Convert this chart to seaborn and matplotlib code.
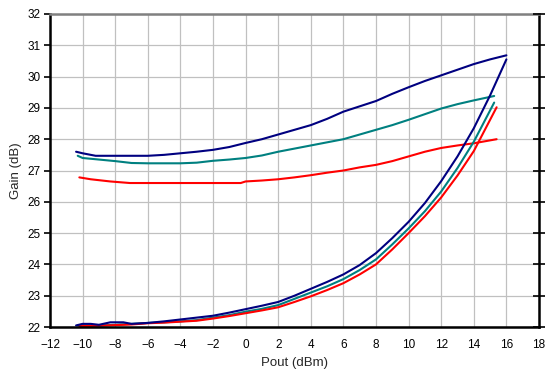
import pandas as pd
import matplotlib
matplotlib.use('Agg')
import matplotlib.pyplot as plt
import seaborn as sns

# gain vs output power, three conditions (navy / teal / red), two curves each
pout_navy_hi = [-10.4, -10, -9.2, -8, -7, -6, -5, -4, -3, -2, -1, 0, 1, 2, 3, 4, 5, 6, 7, 8, 9, 10, 11, 12, 13, 14, 15, 16]
gain_navy_hi = [27.6, 27.55, 27.47, 27.47, 27.47, 27.47, 27.5, 27.55, 27.6, 27.66, 27.75, 27.88, 28.0, 28.15, 28.3, 28.45,
                28.65, 28.88, 29.05, 29.22, 29.45, 29.66, 29.86, 30.04, 30.22, 30.4, 30.55, 30.68]

pout_teal_hi = [-10.3, -10, -9, -8, -7, -6, -5, -4, -3, -2, -1, 0, 1, 2, 3, 4, 5, 6, 7, 8, 9, 10, 11, 12, 13, 14, 15.25]
gain_teal_hi = [27.47, 27.4, 27.35, 27.3, 27.24, 27.23, 27.23, 27.23, 27.25, 27.31, 27.35, 27.4, 27.48, 27.6, 27.7, 27.8,
                27.9, 28.0, 28.15, 28.3, 28.45, 28.62, 28.8, 28.98, 29.12, 29.24, 29.38]

pout_red_hi = [-10.2, -9.5, -8.3, -7.1, -6, -5, -4, -3, -2, -1, -0.3, 0, 1, 2, 3, 4, 5, 6, 7, 8, 9, 10, 11, 12, 13, 14, 15.4]
gain_red_hi = [26.78, 26.72, 26.65, 26.6, 26.6, 26.6, 26.6, 26.6, 26.6, 26.6, 26.6, 26.65, 26.68, 26.72, 26.78, 26.85,
               26.93, 27.0, 27.1, 27.18, 27.3, 27.45, 27.6, 27.72, 27.8, 27.87, 28.0]

pout_navy_lo = [-10.4, -10, -9.5, -9, -8.3, -7.5, -7, -6, -5, -4, -3, -2, -1, 0, 1, 2, 3, 4, 5, 6, 7, 8, 9, 10, 11, 12, 13, 14, 15, 16]
gain_navy_lo = [22.05, 22.1, 22.1, 22.07, 22.15, 22.15, 22.1, 22.13, 22.18, 22.24, 22.3, 22.36, 22.46, 22.57, 22.68, 22.8,
                23.0, 23.22, 23.44, 23.68, 23.98, 24.36, 24.84, 25.36, 25.96, 26.66, 27.45, 28.35, 29.4, 30.55]

pout_teal_lo = [-10.3, -9, -8, -7, -6, -5, -4, -3, -2, -1, 0, 1, 2, 3, 4, 5, 6, 7, 8, 9, 10, 11, 12, 13, 14, 15.25]
gain_teal_lo = [22.05, 22.05, 22.07, 22.1, 22.13, 22.15, 22.18, 22.22, 22.3, 22.38, 22.49, 22.58, 22.7, 22.9, 23.1, 23.3,
                23.53, 23.82, 24.16, 24.64, 25.15, 25.7, 26.33, 27.08, 27.92, 29.17]

pout_red_lo = [-10.2, -9, -8, -7, -6, -5, -4, -3, -2, -1, 0, 1, 2, 3, 4, 5, 6, 7, 8, 9, 10, 11, 12, 13, 14, 15.4]
gain_red_lo = [22.03, 22.04, 22.06, 22.08, 22.12, 22.14, 22.17, 22.2, 22.27, 22.35, 22.44, 22.53, 22.63, 22.8, 22.98, 23.18,
               23.4, 23.68, 24.0, 24.48, 25.0, 25.54, 26.14, 26.84, 27.62, 29.02]

series = [
    (pout_navy_hi, gain_navy_hi, '#000080'),
    (pout_teal_hi, gain_teal_hi, '#008080'),
    (pout_red_hi, gain_red_hi, '#ff0000'),
    (pout_teal_lo, gain_teal_lo, '#008080'),
    (pout_red_lo, gain_red_lo, '#ff0000'),
    (pout_navy_lo, gain_navy_lo, '#000080'),
]

sns.set_theme(style='white')
plt.rcParams['font.family'] = ['Liberation Sans', 'DejaVu Sans']

fig = plt.figure(figsize=(5.49, 3.79), dpi=100)
ax = fig.add_axes([50/549, 1 - 327/379, (539 - 50)/549, (327 - 14)/379])

for x, y, c in series:
    df = pd.DataFrame({'Pout': x, 'Gain': y})
    sns.lineplot(data=df, x='Pout', y='Gain', ax=ax, color=c, linewidth=1.5,
                 sort=False, estimator=None)

ax.set_xlim(-12, 18)
ax.set_ylim(22, 32)
ax.set_xticks(range(-12, 19, 2))
ax.set_yticks(range(22, 33))
ax.grid(True, color='#c0c0c0', linewidth=0.9)
ax.set_axisbelow(True)

for s in ['left', 'bottom', 'right']:
    ax.spines[s].set_color('black')
    ax.spines[s].set_linewidth(1.8)
ax.spines['top'].set_color('#808080')
ax.spines['top'].set_linewidth(1.8)

ax.tick_params(axis='both', labelsize=8.5, colors='black', length=4, width=1.2)
ax.tick_params(axis='x', direction='out', pad=5)
ax.tick_params(axis='y', direction='out', left=True, pad=3)

# crossing ticks on the right edge
ax_r = ax.twinx()
ax_r.set_ylim(22, 32)
ax_r.set_yticks(range(22, 33))
ax_r.tick_params(axis='y', direction='inout', length=8, width=1.2, colors='black', labelright=False)
for s in ax_r.spines.values():
    s.set_visible(False)

ax.set_xlabel('Pout (dBm)', fontsize=9.5, labelpad=4)
ax.set_ylabel('Gain (dB)', fontsize=9.5, labelpad=4)

fig.savefig('out.png', dpi=100)
